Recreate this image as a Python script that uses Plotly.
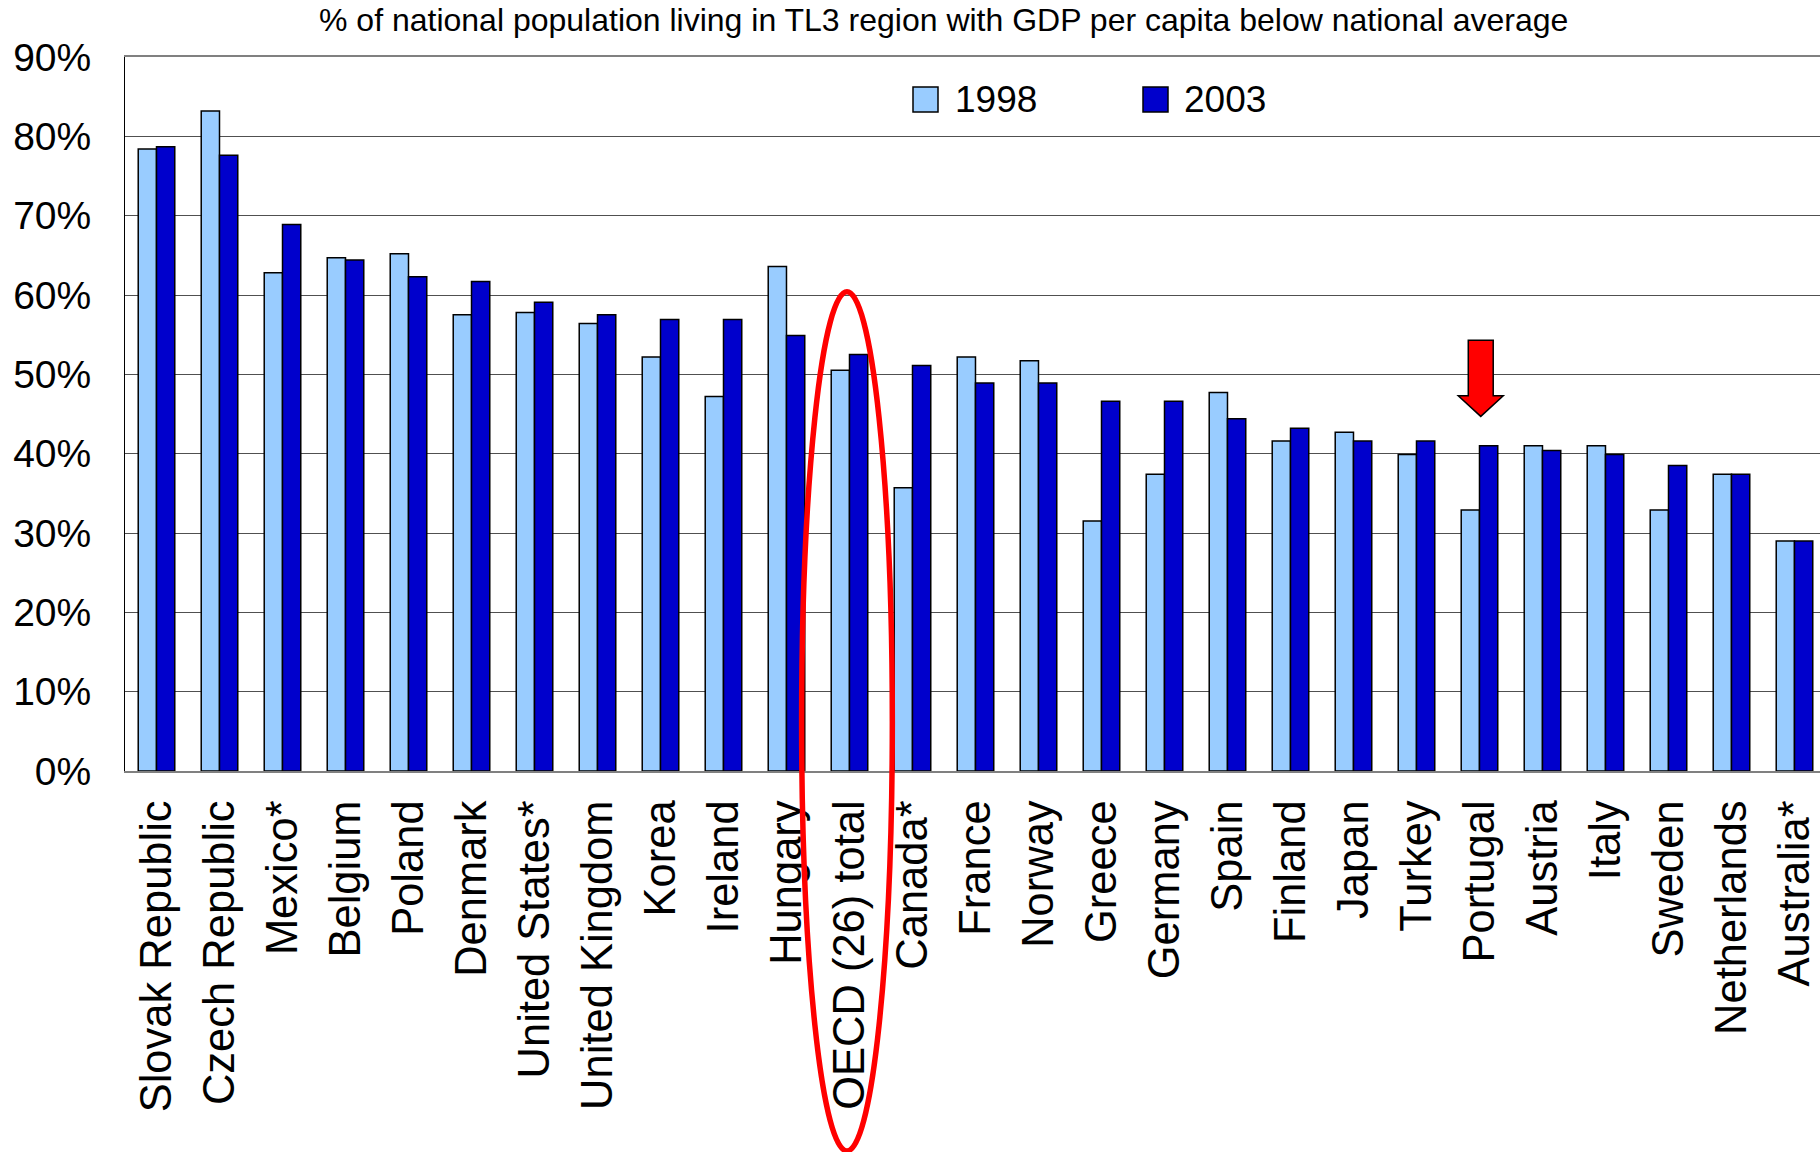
import plotly.graph_objects as go

# Share of national population living in TL3 regions with GDP per capita below the national average
countries = [
    "Slovak Republic", "Czech Republic", "Mexico*", "Belgium", "Poland", "Denmark",
    "United States*", "United Kingdom", "Korea", "Ireland", "Hungary", "OECD (26) total",
    "Canada*", "France", "Norway", "Greece", "Germany", "Spain", "Finland", "Japan",
    "Turkey", "Portugal", "Austria", "Italy", "Sweden", "Netherlands", "Australia*",
]
share_1998 = [
    78.4, 83.2, 62.8, 64.7, 65.2, 57.5, 57.8, 56.4, 52.2, 47.2, 63.6, 50.5,
    35.7, 52.2, 51.7, 31.5, 37.4, 47.7, 41.6, 42.7, 39.9, 32.9, 41.0, 41.0,
    32.9, 37.4, 29.0,
]
share_2003 = [
    78.7, 77.6, 68.9, 64.4, 62.3, 61.7, 59.1, 57.5, 56.9, 56.9, 54.9, 52.5,
    51.1, 48.9, 48.9, 46.6, 46.6, 44.4, 43.2, 41.6, 41.6, 41.0, 40.4, 39.9,
    38.5, 37.4, 29.0,
]
years = ["1998", "2003"]
colors = ["#99CCFF", "#0000CC"]

FONT = "Liberation Sans, Arial, sans-serif"
W, H = 1820, 1152
ML, MR, MT, MB = 125, 0, 57, 381
Y_MAX = 90
X_RANGE = [-0.5, 26.405]

plot_w = W - ML - MR
plot_h = H - MT - MB


def px_x(px):
    return (px - ML) / plot_w


def px_y(py):
    return (H - MB - py) / plot_h


def val_y(v):
    return v / Y_MAX


def cat_x(idx):
    return (idx - X_RANGE[0]) / (X_RANGE[1] - X_RANGE[0])


fig = go.Figure()
for name, vals, col in zip(years, [share_1998, share_2003], colors):
    fig.add_trace(go.Bar(
        x=countries, y=vals, name=name,
        marker=dict(color=col, line=dict(color="black", width=1.5)),
        showlegend=False,
    ))

shapes = []

# highlight ring around the OECD total
oecd = countries.index("OECD (26) total")
shapes.append(dict(
    type="circle", xref="x", yref="paper",
    x0=oecd - 0.76, x1=oecd + 0.68,
    y0=val_y(-47.9), y1=val_y(60.4),
    line=dict(color="#FF0000", width=5.5), fillcolor="rgba(0,0,0,0)",
    layer="above",
))

# downward arrow over Portugal
pt = countries.index("Portugal") + 0.02
sh, hh = 0.198, 0.357
a_top, a_neck, a_tip = 54.3, 47.3, 44.7
pts = [
    (pt - sh, a_top), (pt + sh, a_top), (pt + sh, a_neck), (pt + hh, a_neck),
    (pt, a_tip), (pt - hh, a_neck), (pt - sh, a_neck),
]
path = "M " + " L ".join(f"{cat_x(x):.5f},{val_y(y):.5f}" for x, y in pts) + " Z"
shapes.append(dict(
    type="path", xref="paper", yref="paper", path=path,
    fillcolor="#FF0000", line=dict(color="black", width=1.5), layer="above",
))

# legend swatches
annotations = []
legend_items = [(913, 953, "1998", colors[0]), (1143, 1182, "2003", colors[1])]
for sx, tx, label, col in legend_items:
    shapes.append(dict(
        type="rect", xref="paper", yref="paper",
        x0=px_x(sx), x1=px_x(sx + 25), y0=px_y(112), y1=px_y(87),
        fillcolor=col, line=dict(color="black", width=1.5), layer="above",
    ))
    annotations.append(dict(
        text=label, xref="paper", yref="paper", x=px_x(tx), y=px_y(99.5),
        xanchor="left", yanchor="middle", showarrow=False,
        font=dict(family=FONT, size=37, color="black"),
    ))

annotations.append(dict(
    text="% of national population living in TL3 region with GDP per capita below national average",
    xref="paper", yref="paper", x=px_x(943), y=px_y(20),
    xanchor="center", yanchor="middle", showarrow=False,
    font=dict(family=FONT, size=32, color="black"),
))

fig.update_layout(
    width=W, height=H,
    margin=dict(l=ML, r=MR, t=MT, b=MB, pad=0),
    paper_bgcolor="white", plot_bgcolor="white",
    barmode="group", bargap=0.42, bargroupgap=0,
    font=dict(family=FONT, color="black"),
    shapes=shapes, annotations=annotations,
    xaxis=dict(
        type="category", range=X_RANGE, tickangle=-90,
        tickfont=dict(family=FONT, size=43.5, color="black"),
        showgrid=False, ticks="", ticklabelstandoff=10,
        showline=True, linecolor="#808080", linewidth=2, mirror=True,
    ),
    yaxis=dict(
        range=[0, Y_MAX], dtick=10, ticksuffix="%",
        tickfont=dict(family=FONT, size=39, color="black"),
        showgrid=True, gridcolor="#505050", gridwidth=1,
        zeroline=False, ticks="", ticklabelstandoff=25,
        showline=True, linecolor="black", linewidth=1,
    ),
)

fig.write_html("out.html")
